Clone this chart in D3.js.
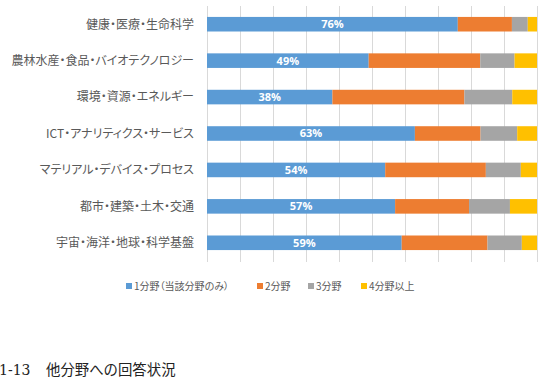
<!DOCTYPE html>
<html><head><meta charset="utf-8">
<script src="https://cdn.jsdelivr.net/npm/d3@7"></script>
<style>body{margin:0;background:#fff;}svg{display:block;}.palt{font-feature-settings:"palt" 1;}</style>
</head><body>
<script>
const categories = ["健康・医療・生命科学","農林水産・食品・バイオテクノロジー","環境・資源・エネルギー","ICT・アナリティクス・サービス","マテリアル・デバイス・プロセス","都市・建築・土木・交通","宇宙・海洋・地球・科学基盤"];
const seriesNames = ["1分野（当該分野のみ）","2分野","3分野","4分野以上"];
const s1 = [76, 49, 38, 63, 54, 57, 59];
const s2 = [16.4, 33.8, 40, 19.9, 30.5, 22.4, 26];
const s3 = [4.8, 10.4, 14.5, 11.1, 10.6, 12.4, 10.4];
const s4 = [2.8, 6.8, 7.5, 6.0, 4.9, 8.2, 4.6];
const gridTicks = [0,10,20,30,40,50,60,70,80,90,100];
const captionNum = "1-13";
const captionText = "他分野への回答状況";
const colors = ["#5B9BD5","#ED7D31","#A5A5A5","#FFC000"];

const W=552,H=378;
const svg=d3.select("body").append("svg").attr("width",W).attr("height",H);
const x=d3.scaleLinear().domain([0,100]).range([207,537]);
const y=d3.scaleBand().domain(categories).range([6,261]).paddingInner(0.6).paddingOuter(0.3);

svg.append("g").selectAll("line").data(gridTicks).join("line")
  .attr("x1",d=>x(d)+0.5).attr("x2",d=>x(d)+0.5).attr("y1",6).attr("y2",262)
  .attr("stroke","#D9D9D9").attr("stroke-width",1);

const rows=categories.map((c,i)=>({cat:c,v:[s1[i],s2[i],s3[i],s4[i]]}));
const stackData=rows.map(r=>{const o={cat:r.cat};seriesNames.forEach((s,j)=>o[s]=r.v[j]);return o;});
const stacked=d3.stack().keys(seriesNames)(stackData);

svg.append("g").selectAll("g").data(stacked).join("g").attr("fill",(d,i)=>colors[i])
  .selectAll("rect").data(d=>d).join("rect")
  .attr("x",d=>x(d[0])).attr("width",d=>x(d[1])-x(d[0]))
  .attr("y",d=>y(d.data.cat)).attr("height",y.bandwidth());

svg.append("g").selectAll("text").data(stacked[0]).join("text")
  .attr("x",d=>(x(d[0])+x(d[1]))/2).attr("y",d=>y(d.data.cat)+y.bandwidth()/2)
  .attr("dy","0.36em").attr("text-anchor","middle")
  .attr("fill","#fff").attr("font-weight","bold").attr("font-size","11px")
  .attr("font-family","'Open Sans','Noto Sans',sans-serif")
  .text(d=>Math.round(d[1]-d[0])+"%");

svg.append("g").attr("class","palt").selectAll("text").data(categories).join("text")
  .attr("x",194).attr("y",d=>y(d)+y.bandwidth()/2).attr("dy","0.36em")
  .attr("text-anchor","end").attr("fill","#595959").attr("font-size","12px")
  .attr("font-family","'Noto Sans CJK JP',sans-serif")
  .text(d=>d);

// legend
const legX=[126,257,308,361];
const lg=svg.append("g").attr("class","palt").attr("font-family","'Noto Sans CJK JP',sans-serif").attr("font-size","10px").attr("fill","#595959");
seriesNames.forEach((s,i)=>{
  lg.append("rect").attr("x",legX[i]).attr("y",283).attr("width",6).attr("height",6).attr("fill",colors[i]);
  lg.append("text").attr("x",legX[i]+8).attr("y",286).attr("dy","0.36em").text(s);
});

// caption
svg.append("text").attr("x",-1).attr("y",375).attr("font-size","14px")
  .attr("font-family","'DejaVu Serif','Liberation Serif',serif").attr("fill","#222").text(captionNum);
svg.append("text").attr("x",46).attr("y",375).attr("font-size","14.4px")
  .attr("font-family","'Noto Sans CJK JP',serif").attr("fill","#222").text(captionText);
</script>
</body></html>
